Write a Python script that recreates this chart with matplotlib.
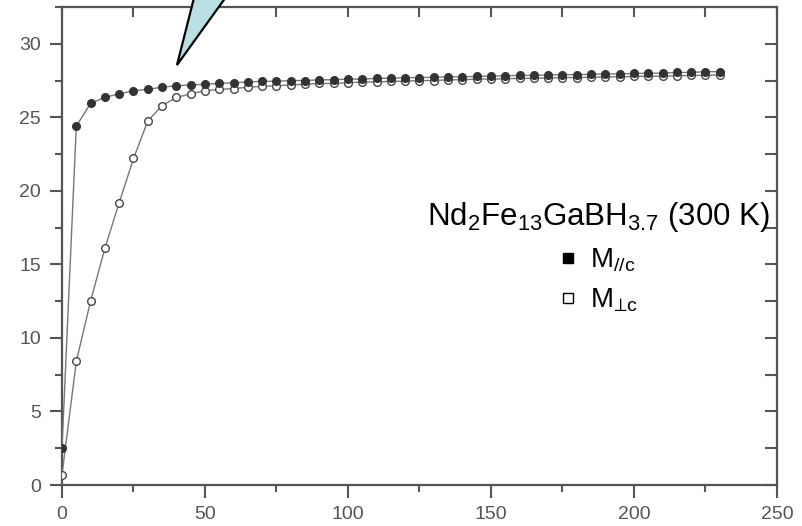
import numpy as np
import matplotlib
matplotlib.use("Agg")
import matplotlib.pyplot as plt
from matplotlib.patches import Polygon
from matplotlib.lines import Line2D
from matplotlib.ticker import MultipleLocator

plt.rcParams['font.family'] = ['Liberation Sans', 'DejaVu Sans']
plt.rcParams['mathtext.fontset'] = 'custom'
plt.rcParams['mathtext.rm'] = 'Liberation Sans'
plt.rcParams['mathtext.it'] = 'Liberation Sans:italic'
plt.rcParams['mathtext.fallback'] = 'stixsans'

# field (kOe) and magnetisation readings
field = np.arange(0, 235, 5)
m_par = [2.5, 24.4, 25.95, 26.35, 26.6, 26.8, 26.9, 27.05, 27.15, 27.2,
         27.25, 27.3, 27.35, 27.4, 27.45, 27.45, 27.5, 27.5, 27.55, 27.55,
         27.6, 27.6, 27.65, 27.65, 27.7, 27.7, 27.72, 27.75, 27.75, 27.78,
         27.8, 27.82, 27.85, 27.85, 27.88, 27.9, 27.9, 27.92, 27.95, 27.95,
         27.98, 28.0, 28.0, 28.05, 28.05, 28.1, 28.1]
m_perp = [0.7, 8.4, 12.5, 16.1, 19.2, 22.2, 24.75, 25.8, 26.35, 26.6,
          26.8, 26.9, 26.95, 27.05, 27.1, 27.15, 27.2, 27.25, 27.3, 27.3,
          27.35, 27.4, 27.4, 27.45, 27.45, 27.5, 27.5, 27.55, 27.55, 27.6,
          27.6, 27.62, 27.65, 27.65, 27.68, 27.7, 27.7, 27.72, 27.75, 27.75,
          27.78, 27.8, 27.8, 27.82, 27.85, 27.85, 27.9]

title = r'Nd$_2$Fe$_{13}$GaBH$_{3.7}$ (300 K)'
labels = [r'M$_{\mathrm{//c}}$', r'M$_{\mathrm{⊥c}}$']

fig = plt.figure(figsize=(8.03, 5.26), dpi=100)
ax = fig.add_axes([62/803, 41/526, 715/803, 478/526])

ink = '#555555'
ax.plot(field, m_perp, '-', color='#777777', lw=1.0, marker='o', ms=5.5,
        mfc='white', mec='#444444', mew=1.0, zorder=3)
ax.plot(field, m_par, '-', color='#777777', lw=1.0, marker='o', ms=5.5,
        mfc='#333333', mec='#333333', mew=1.0, zorder=4)

ax.set_xlim(0, 250)
ax.set_ylim(0, 32.5)
ax.xaxis.set_major_locator(MultipleLocator(50))
ax.xaxis.set_minor_locator(MultipleLocator(25))
ax.yaxis.set_major_locator(MultipleLocator(5))
ax.yaxis.set_minor_locator(MultipleLocator(2.5))

for s in ax.spines.values():
    s.set_color(ink)
    s.set_linewidth(1.6)

ax.tick_params(which='both', direction='out', color=ink, width=1.5,
               labelcolor=ink, labelsize=14)
ax.tick_params(which='major', length=9, pad=6)
ax.tick_params(which='minor', length=5)

# inward ticks on the top and right edges
sec_x = ax.secondary_xaxis('top')
sec_x.xaxis.set_major_locator(MultipleLocator(50))
sec_x.xaxis.set_minor_locator(MultipleLocator(25))
sec_x.tick_params(which='both', direction='in', color=ink, width=1.5,
                  labeltop=False, length=7)
sec_x.spines['top'].set_visible(False)
sec_y = ax.secondary_yaxis('right')
sec_y.yaxis.set_major_locator(MultipleLocator(5))
sec_y.yaxis.set_minor_locator(MultipleLocator(2.5))
sec_y.tick_params(which='both', direction='in', color=ink, width=1.5,
                  labelright=False, length=9)
sec_y.spines['right'].set_visible(False)

handles = [Line2D([], [], ls='none', marker='s', ms=7, mfc='black', mec='black'),
           Line2D([], [], ls='none', marker='s', ms=7, mfc='white', mec='black', mew=1.0)]
leg = ax.legend(handles, labels, title=title, frameon=False, fontsize=20,
                title_fontsize=22.5, handlelength=0.6, handletextpad=0.5,
                labelspacing=0.45, borderpad=0, loc='center',
                bbox_to_anchor=(599/803, 1 - 257/526),
                bbox_transform=fig.transFigure)

# speech-bubble tail at the top
tail = Polygon([(177/803, 1 - 65/526), (196/803, 1 + 10/526), (231/803, 1 + 10/526)],
               closed=True, transform=fig.transFigure, facecolor='#b9e1e4',
               edgecolor='black', lw=1.6, clip_on=False, zorder=10)
fig.add_artist(tail)

fig.savefig('out.png', dpi=100)
